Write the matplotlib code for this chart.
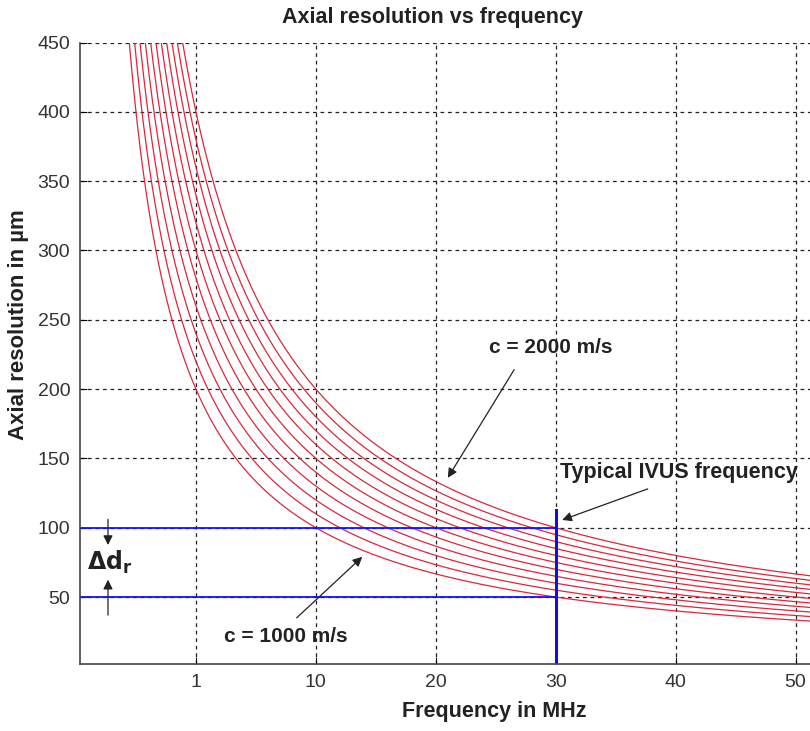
import numpy as np
import matplotlib
matplotlib.use("Agg")
import matplotlib.pyplot as plt

# speeds of sound (m/s), one red curve each
speeds = [1000, 1100, 1200, 1300, 1400, 1500, 1600, 1700, 1800, 1900, 2000]
k_res = 1.5  # axial resolution (um) = k_res * c / f

x_tick_pos = [7.5, 15, 22.5, 30, 37.5, 45]
x_tick_labels = ["1", "10", "20", "30", "40", "50"]
y_ticks = [50, 100, 150, 200, 250, 300, 350, 400, 450]

ivus_freq = 30
band_low, band_high = 50, 100

plt.rcParams['font.family'] = ['Liberation Sans', 'DejaVu Sans']

fig = plt.figure(figsize=(8.1, 7.31), dpi=100)
ax = fig.add_axes([80 / 810, 67 / 731, 730 / 810, 621.5 / 731])

f = np.linspace(2.5, 47, 1200)
for c in speeds:
    ax.plot(f, k_res * c / f, color='#d8283c', lw=0.9)

# typical IVUS frequency and the resolution band
ax.plot([0, ivus_freq], [band_high, band_high], color='#1010ff', lw=1.3)
ax.plot([0, ivus_freq], [band_low, band_low], color='#1010ff', lw=1.3)
ax.plot([ivus_freq, ivus_freq], [0, 113], color='#1010dd', lw=2.2)

ax.set_xlim(0.25, 45.9)
ax.set_ylim(1.7, 450)
ax.set_xticks(x_tick_pos)
ax.set_xticklabels(x_tick_labels)
ax.set_yticks(y_ticks)
ax.tick_params(direction='in', length=5, labelsize=14, labelcolor='#333333', pad=7)
ax.grid(True, color='#222222', linestyle=(0, (3, 3)), lw=0.9)
ax.spines['top'].set_visible(False)
ax.spines['right'].set_visible(False)
for s in ['left', 'bottom']:
    ax.spines[s].set_color('#444444')
    ax.spines[s].set_linewidth(1.2)

fig.text(432 / 810, 1 - 17 / 731, "Axial resolution vs frequency", ha='center', va='center',
         fontsize=15.5, fontweight='bold', color='#222222')
fig.text(494 / 810, 1 - 712 / 731, "Frequency in MHz", ha='center', va='center',
         fontsize=15.5, fontweight='bold', color='#222222')
fig.text(19 / 810, 1 - 325 / 731, "Axial resolution in \u00b5m", ha='center', va='center',
         rotation=90, fontsize=16, fontweight='bold', color='#222222')

arrow = dict(arrowstyle='-|>', color='#222222', lw=0.9, mutation_scale=14, shrinkA=0, shrinkB=0)
ax.annotate("c = 2000 m/s", xy=(23.25, 136), xytext=(29.7, 230), ha='center', va='center',
            fontsize=15, fontweight='bold', color='#222222')
ax.annotate("", xy=(23.25, 136), xytext=(27.4, 214), arrowprops=arrow)
ax.annotate("Typical IVUS frequency", xy=(30.4, 105.6), xytext=(37.7, 139.5),
            ha='center', va='center', fontsize=15.5, fontweight='bold', color='#222222')
ax.annotate("", xy=(30.4, 105.6), xytext=(35.75, 128), arrowprops=arrow)
ax.annotate("c = 1000 m/s", xy=(17.9, 79), xytext=(13.1, 21.4), ha='center', va='center',
            fontsize=15, fontweight='bold', color='#222222')
ax.annotate("", xy=(17.9, 79), xytext=(13.8, 35), arrowprops=arrow)

ax.text(0.69, 75.3, r"$\mathbf{\Delta d_r}$", ha='left', va='center', fontsize=17, color='#222222')
ax.annotate("", xy=(2.0, 87.5), xytext=(2.0, 106), arrowprops=arrow)
ax.annotate("", xy=(2.0, 62.5), xytext=(2.0, 37), arrowprops=arrow)

fig.savefig("out.png", dpi=100)
